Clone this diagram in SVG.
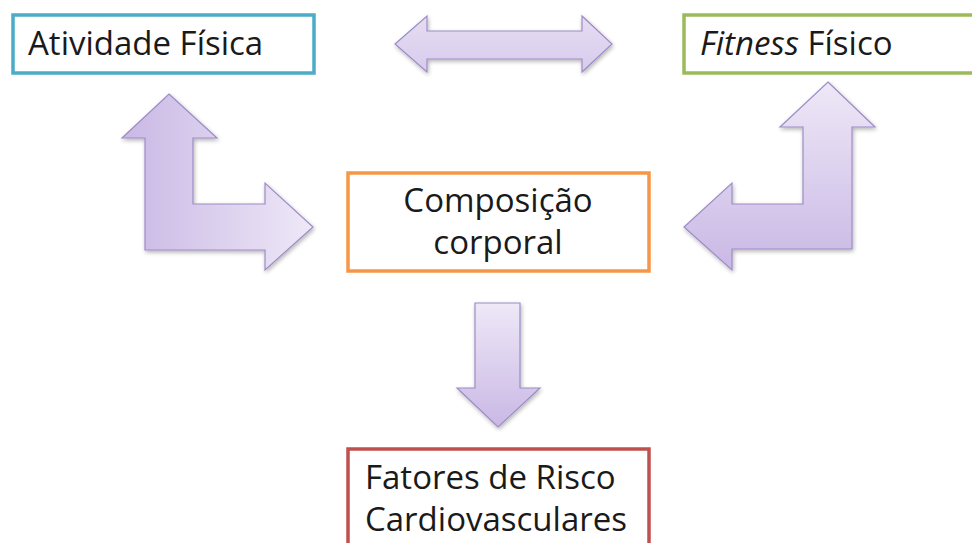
<svg xmlns="http://www.w3.org/2000/svg" width="972" height="543" viewBox="0 0 972 543">
  <style>
    .box { fill: #ffffff; stroke-width: 3.5; }
    .lbl { font-family: "Open Sans", "Noto Sans", "Liberation Sans", sans-serif; font-size: 33px; fill: #1a1a1a; }
    .arrow { stroke: #9d8cc6; stroke-width: 1.2; stroke-linejoin: miter; filter: url(#sh); }
  </style>
  <defs>
    <filter id="sh" x="-10%" y="-10%" width="130%" height="130%">
      <feGaussianBlur in="SourceAlpha" stdDeviation="2"/>
      <feOffset dx="1" dy="2" result="b"/>
      <feComponentTransfer><feFuncA type="linear" slope="0.3"/></feComponentTransfer>
      <feMerge><feMergeNode/><feMergeNode in="SourceGraphic"/></feMerge>
    </filter>
    <linearGradient id="gH" x1="0" y1="0" x2="1" y2="0">
      <stop offset="0" stop-color="#c9b8e5"/>
      <stop offset="1" stop-color="#eee8f7"/>
    </linearGradient>
    <linearGradient id="gV" x1="0" y1="0" x2="0" y2="1">
      <stop offset="0" stop-color="#eee8f7"/>
      <stop offset="1" stop-color="#c9b8e5"/>
    </linearGradient>
    <linearGradient id="gD" x1="0" y1="0" x2="0" y2="1">
      <stop offset="0" stop-color="#e6ddf3"/>
      <stop offset="1" stop-color="#d7cbec"/>
    </linearGradient>
  </defs>

  <g id="connectors">
    <path class="arrow" fill="url(#gD)" d="M395,44 L427,16 L427,31 L582,31 L582,16 L612,44 L582,72 L582,59 L427,59 L427,72 Z"/>
    <path class="arrow" fill="url(#gH)" d="M169,94 L217,138 L193,138 L193,204 L265,204 L265,183 L313,227 L265,270 L265,250 L145,250 L145,138 L122,138 Z"/>
    <path class="arrow" fill="url(#gV)" d="M828,82 L875,127 L852,127 L852,249 L732,249 L732,270 L684,227 L732,183 L732,204 L803,204 L803,127 L780,127 Z"/>
    <path class="arrow" fill="url(#gV)" d="M475,303 L520,303 L520,388 L540,388 L498,427 L457,388 L475,388 Z"/>
  </g>

  <g id="node-atividade">
    <rect class="box" x="13" y="15" width="301" height="58" stroke="#4bacc6"/>
    <text class="lbl" x="28" y="55">Atividade Física</text>
  </g>

  <g id="node-fitness">
    <rect class="box" x="684" y="15" width="300" height="58" stroke="#9bbb59"/>
    <text class="lbl" x="700" y="55"><tspan font-style="italic">Fitness</tspan> Físico</text>
  </g>

  <g id="node-composicao">
    <rect class="box" x="348" y="173" width="301" height="98" stroke="#f79646"/>
    <text class="lbl" x="498" y="212" text-anchor="middle">Composição</text>
    <text class="lbl" x="498" y="254" text-anchor="middle">corporal</text>
  </g>

  <g id="node-fatores">
    <rect class="box" x="348" y="449" width="301" height="110" stroke="#c0504d"/>
    <text class="lbl" x="365" y="489">Fatores de Risco</text>
    <text class="lbl" x="365" y="531">Cardiovasculares</text>
  </g>
</svg>
